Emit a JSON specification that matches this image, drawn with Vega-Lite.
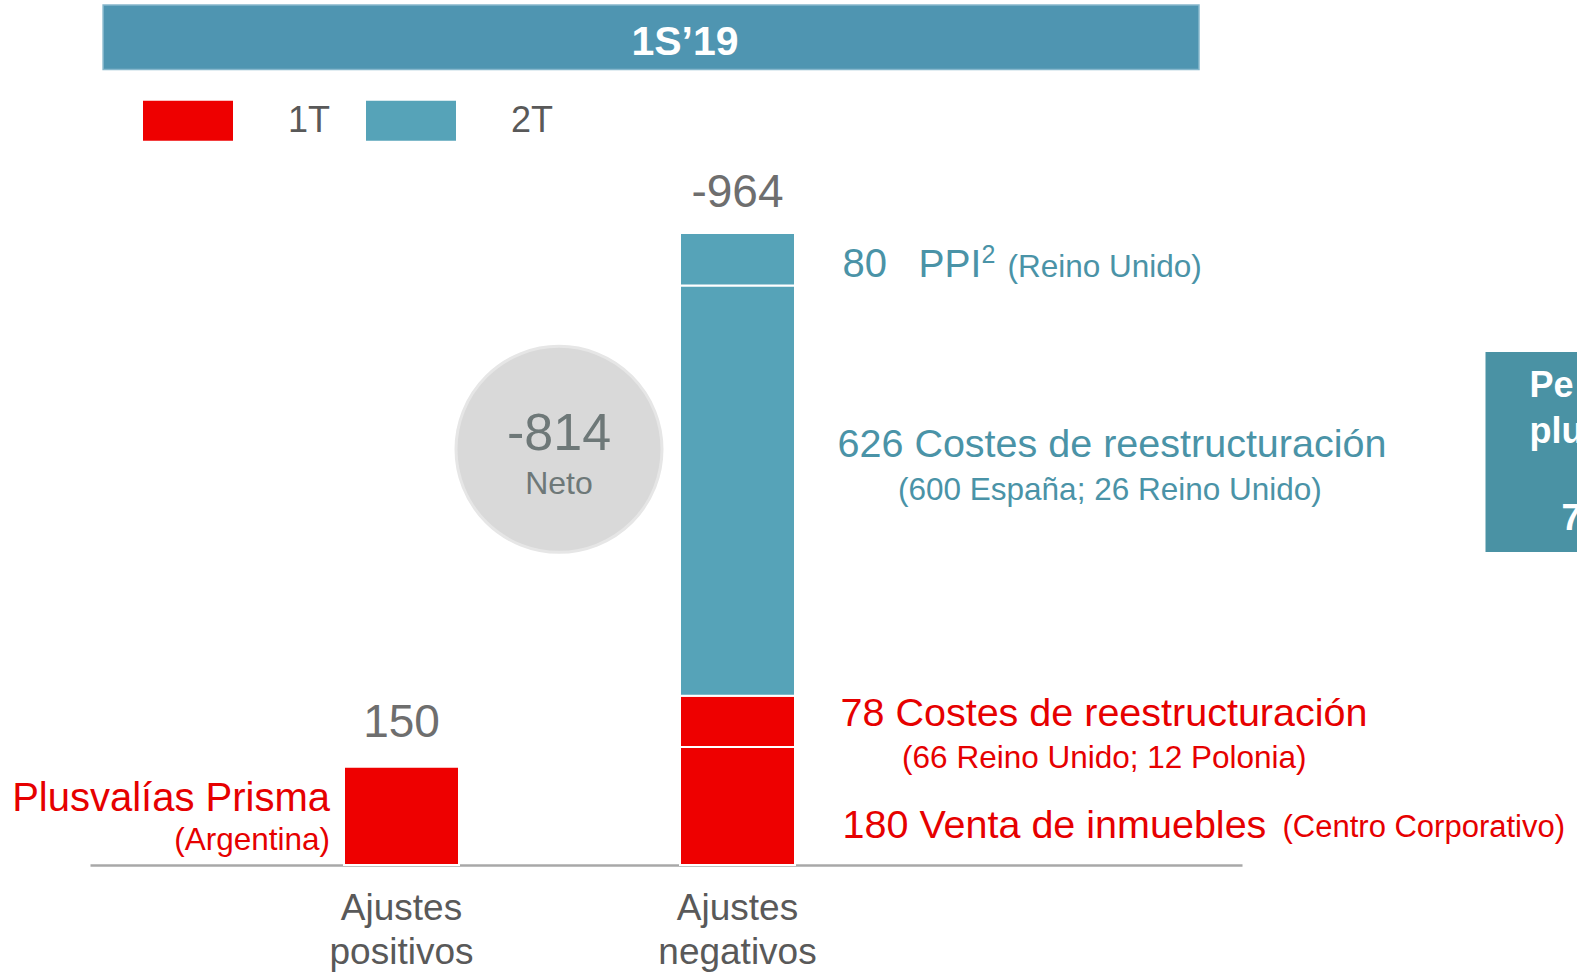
{
  "$schema": "https://vega.github.io/schema/vega-lite/v6.json",
  "width": 1152,
  "height": 632,
  "autosize": {"type": "none"},
  "padding": {"left": 90, "top": 233, "right": 335, "bottom": 108},
  "background": "white",
  "config": {
    "font": "Liberation Sans",
    "view": {"stroke": null},
    "axisY": {"disable": true},
    "text": {"font": "Liberation Sans", "baseline": "middle"}
  },
  "layer": [
    {
      "data": {"values": [
        {"ajuste": "Ajustes positivos", "trimestre": "1T", "concepto": "Plusvalías Prisma (Argentina)", "importe": 150, "orden": 1},
        {"ajuste": "Ajustes negativos", "trimestre": "1T", "concepto": "Venta de inmuebles (Centro Corporativo)", "importe": 180, "orden": 1},
        {"ajuste": "Ajustes negativos", "trimestre": "1T", "concepto": "Costes de reestructuración (66 Reino Unido; 12 Polonia)", "importe": 78, "orden": 2},
        {"ajuste": "Ajustes negativos", "trimestre": "2T", "concepto": "Costes de reestructuración (600 España; 26 Reino Unido)", "importe": 626, "orden": 3},
        {"ajuste": "Ajustes negativos", "trimestre": "2T", "concepto": "PPI (Reino Unido)", "importe": 80, "orden": 4}
      ]},
      "mark": {"type": "bar", "stroke": "white", "strokeWidth": 2, "width": {"band": 0.7986}},
      "encoding": {
        "x": {
          "field": "ajuste", "type": "nominal",
          "scale": {"type": "band", "domain": ["Ajustes positivos", "Ajustes negativos"], "paddingInner": 0.5714, "paddingOuter": 1, "align": 0.3564},
          "axis": {
            "title": null, "ticks": false, "labelAngle": 0,
            "domainColor": "#a8a8a8", "domainWidth": 2.5,
            "labelFontSize": 37, "labelColor": "#595959", "labelFont": "Liberation Sans",
            "labelLineHeight": 44, "labelPadding": 25,
            "labelExpr": "split(datum.label, ' ')"
          }
        },
        "y": {"field": "importe", "type": "quantitative", "stack": "zero", "scale": {"domain": [0, 964], "nice": false}, "axis": null},
        "color": {
          "field": "trimestre", "type": "nominal",
          "scale": {"domain": ["1T", "2T"], "range": ["#ee0000", "#56a3b8"]},
          "legend": {
            "title": null, "orient": "none", "legendX": 53, "legendY": -157.3, "direction": "horizontal",
            "symbolType": "M-1,-0.444H1V0.444H-1Z", "symbolSize": 8100, "symbolStrokeWidth": 0, "symbolOpacity": 1,
            "labelFontSize": 36, "labelColor": "#595959", "labelFont": "Liberation Sans",
            "labelOffset": 55, "columnPadding": 35, "padding": 0
          }
        },
        "order": {"field": "orden", "type": "quantitative"}
      }
    },
    {
      "data": {"values": [{"desde": "Ajustes positivos", "hasta": "Ajustes negativos", "periodo": "1S’19"}]},
      "mark": {"type": "rect", "fill": "#4f95b1", "stroke": "#86b7cc", "strokeWidth": 1.5, "xOffset": -226.4, "x2Offset": 533.5},
      "encoding": {
        "x": {"field": "desde", "type": "nominal", "bandPosition": 0},
        "x2": {"field": "hasta", "bandPosition": 0},
        "y": {"datum": 1311.8},
        "y2": {"datum": 1213.5}
      }
    },
    {
      "data": {"values": [{"ajuste": "Ajustes negativos", "periodo": "1S’19"}]},
      "mark": {"type": "text", "fontSize": 41, "fontWeight": "bold", "color": "white", "align": "center", "dx": -52.5},
      "encoding": {"x": {"field": "ajuste", "type": "nominal"}, "y": {"datum": 1253.5}, "text": {"field": "periodo"}}
    },
    {
      "data": {"values": [{"ajuste": "Ajustes positivos", "texto": "150"}]},
      "mark": {"type": "text", "fontSize": 46, "color": "#6e6e6e", "align": "center"},
      "encoding": {"x": {"field": "ajuste", "type": "nominal"}, "y": {"datum": 217}, "text": {"field": "texto"}}
    },
    {
      "data": {"values": [{"ajuste": "Ajustes negativos", "texto": "-964"}]},
      "mark": {"type": "text", "fontSize": 46, "color": "#6e6e6e", "align": "center"},
      "encoding": {"x": {"field": "ajuste", "type": "nominal"}, "y": {"datum": 1025}, "text": {"field": "texto"}}
    },
    {
      "data": {"values": [{"ajuste": "Ajustes positivos", "neto": -814}]},
      "mark": {"type": "point", "shape": "circle", "filled": true, "fill": "#d9d9d9", "stroke": "#e6e6e6", "strokeWidth": 3, "opacity": 1, "size": 42436, "xOffset": 157.5},
      "encoding": {"x": {"field": "ajuste", "type": "nominal"}, "y": {"datum": 634}}
    },
    {
      "data": {"values": [{"ajuste": "Ajustes positivos", "texto": "-814"}]},
      "mark": {"type": "text", "fontSize": 52, "color": "#6e7878", "align": "center", "dx": 157.5},
      "encoding": {"x": {"field": "ajuste", "type": "nominal"}, "y": {"datum": 658}, "text": {"field": "texto"}}
    },
    {
      "data": {"values": [{"ajuste": "Ajustes positivos", "texto": "Neto"}]},
      "mark": {"type": "text", "fontSize": 32, "color": "#6e7878", "align": "center", "dx": 157.5},
      "encoding": {"x": {"field": "ajuste", "type": "nominal"}, "y": {"datum": 581.6}, "text": {"field": "texto"}}
    },
    {
      "data": {"values": [{"ajuste": "Ajustes negativos", "texto": "80"}]},
      "mark": {"type": "text", "fontSize": 40, "color": "#4a93a7", "align": "left", "dx": 105},
      "encoding": {"x": {"field": "ajuste", "type": "nominal"}, "y": {"datum": 915.5}, "text": {"field": "texto"}}
    },
    {
      "data": {"values": [{"ajuste": "Ajustes negativos", "texto": "PPI"}]},
      "mark": {"type": "text", "fontSize": 39, "color": "#4a93a7", "align": "left", "dx": 181},
      "encoding": {"x": {"field": "ajuste", "type": "nominal"}, "y": {"datum": 915.5}, "text": {"field": "texto"}}
    },
    {
      "data": {"values": [{"ajuste": "Ajustes negativos", "texto": "2"}]},
      "mark": {"type": "text", "fontSize": 25, "color": "#4a93a7", "align": "left", "dx": 244},
      "encoding": {"x": {"field": "ajuste", "type": "nominal"}, "y": {"datum": 930}, "text": {"field": "texto"}}
    },
    {
      "data": {"values": [{"ajuste": "Ajustes negativos", "texto": "(Reino Unido)"}]},
      "mark": {"type": "text", "fontSize": 31.5, "color": "#4a93a7", "align": "left", "dx": 270},
      "encoding": {"x": {"field": "ajuste", "type": "nominal"}, "y": {"datum": 911}, "text": {"field": "texto"}}
    },
    {
      "data": {"values": [{"ajuste": "Ajustes negativos", "texto": "626 Costes de reestructuración"}]},
      "mark": {"type": "text", "fontSize": 39.5, "color": "#4a93a7", "align": "left", "dx": 100},
      "encoding": {"x": {"field": "ajuste", "type": "nominal"}, "y": {"datum": 641}, "text": {"field": "texto"}}
    },
    {
      "data": {"values": [{"ajuste": "Ajustes negativos", "texto": "(600 España; 26 Reino Unido)"}]},
      "mark": {"type": "text", "fontSize": 31.5, "color": "#4a93a7", "align": "left", "dx": 160.5},
      "encoding": {"x": {"field": "ajuste", "type": "nominal"}, "y": {"datum": 570}, "text": {"field": "texto"}}
    },
    {
      "data": {"values": [{"ajuste": "Ajustes negativos", "texto": "78 Costes de reestructuración"}]},
      "mark": {"type": "text", "fontSize": 39.5, "color": "#e60000", "align": "left", "dx": 103},
      "encoding": {"x": {"field": "ajuste", "type": "nominal"}, "y": {"datum": 231}, "text": {"field": "texto"}}
    },
    {
      "data": {"values": [{"ajuste": "Ajustes negativos", "texto": "(66 Reino Unido; 12 Polonia)"}]},
      "mark": {"type": "text", "fontSize": 31.5, "color": "#e60000", "align": "left", "dx": 164.6},
      "encoding": {"x": {"field": "ajuste", "type": "nominal"}, "y": {"datum": 161}, "text": {"field": "texto"}}
    },
    {
      "data": {"values": [{"ajuste": "Ajustes negativos", "texto": "180 Venta de inmuebles"}]},
      "mark": {"type": "text", "fontSize": 39.5, "color": "#e60000", "align": "left", "dx": 105},
      "encoding": {"x": {"field": "ajuste", "type": "nominal"}, "y": {"datum": 59}, "text": {"field": "texto"}}
    },
    {
      "data": {"values": [{"ajuste": "Ajustes negativos", "texto": "(Centro Corporativo)"}]},
      "mark": {"type": "text", "fontSize": 31, "color": "#e60000", "align": "left", "dx": 545},
      "encoding": {"x": {"field": "ajuste", "type": "nominal"}, "y": {"datum": 56}, "text": {"field": "texto"}}
    },
    {
      "data": {"values": [{"ajuste": "Ajustes positivos", "texto": "Plusvalías Prisma"}]},
      "mark": {"type": "text", "fontSize": 40, "color": "#e60000", "align": "right", "dx": -71.5},
      "encoding": {"x": {"field": "ajuste", "type": "nominal"}, "y": {"datum": 100}, "text": {"field": "texto"}}
    },
    {
      "data": {"values": [{"ajuste": "Ajustes positivos", "texto": "(Argentina)"}]},
      "mark": {"type": "text", "fontSize": 31.5, "color": "#e60000", "align": "right", "dx": -71.5},
      "encoding": {"x": {"field": "ajuste", "type": "nominal"}, "y": {"datum": 36}, "text": {"field": "texto"}}
    },
    {
      "data": {"values": [{"ajuste": "Ajustes negativos", "caja": "Pe"}]},
      "mark": {"type": "point", "shape": "square", "filled": true, "fill": "#4a92a4", "opacity": 1, "strokeWidth": 0, "size": 40000, "xOffset": 848},
      "encoding": {"x": {"field": "ajuste", "type": "nominal"}, "y": {"datum": 630}}
    },
    {
      "data": {"values": [{"ajuste": "Ajustes negativos", "texto": "Pe"}]},
      "mark": {"type": "text", "fontSize": 36, "fontWeight": "bold", "color": "white", "align": "left", "dx": 792},
      "encoding": {"x": {"field": "ajuste", "type": "nominal"}, "y": {"datum": 731}, "text": {"field": "texto"}}
    },
    {
      "data": {"values": [{"ajuste": "Ajustes negativos", "texto": "plu"}]},
      "mark": {"type": "text", "fontSize": 36, "fontWeight": "bold", "color": "white", "align": "left", "dx": 792},
      "encoding": {"x": {"field": "ajuste", "type": "nominal"}, "y": {"datum": 661}, "text": {"field": "texto"}}
    },
    {
      "data": {"values": [{"ajuste": "Ajustes negativos", "texto": "7"}]},
      "mark": {"type": "text", "fontSize": 36, "fontWeight": "bold", "color": "white", "align": "left", "dx": 824},
      "encoding": {"x": {"field": "ajuste", "type": "nominal"}, "y": {"datum": 527}, "text": {"field": "texto"}}
    }
  ]
}
